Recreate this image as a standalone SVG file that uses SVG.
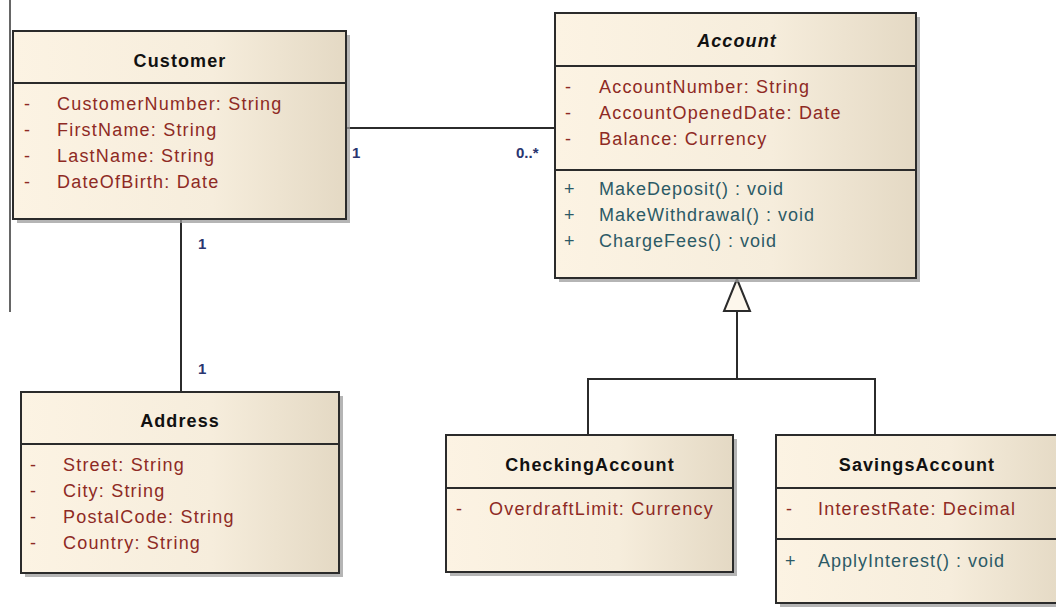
<svg xmlns="http://www.w3.org/2000/svg" width="1056" height="609" viewBox="0 0 1056 609">
<defs>
<linearGradient id="fill" x1="0" y1="0" x2="1" y2="0">
<stop offset="0" stop-color="#FCF3E3"/>
<stop offset="0.6" stop-color="#F6EDDC"/>
<stop offset="1" stop-color="#E4D9C4"/>
</linearGradient>
<style>
.shadow{fill:#9C9C9C;opacity:0.75}
.box{fill:url(#fill);stroke:#2B2B2B;stroke-width:2}
.sep{stroke:#2B2B2B;stroke-width:2}
.title{font-family:"Liberation Sans",Arial,sans-serif;font-size:18px;font-weight:bold;fill:#111;text-anchor:middle;letter-spacing:1.1px}
.attr{font-family:"Liberation Sans",Arial,sans-serif;font-size:18px;fill:#8E2A24;letter-spacing:1.2px}
.op{font-family:"Liberation Sans",Arial,sans-serif;font-size:18px;fill:#2C5A66;letter-spacing:1px}
.mult{font-family:"Liberation Sans",Arial,sans-serif;font-size:15px;font-weight:bold;fill:#2A3570}
.line{stroke:#2B2B2B;stroke-width:2;fill:none}
</style>
</defs>
<rect width="1056" height="609" fill="#FFFFFF"/>
<line x1="10" y1="0" x2="10" y2="312" stroke="#333" stroke-width="1.5"/>

<g id="connectors">
<line class="line" x1="346" y1="128" x2="555" y2="128"/>
<text class="mult" x="352" y="158">1</text>
<text class="mult" x="516" y="158">0..*</text>
<line class="line" x1="181" y1="219" x2="181" y2="392"/>
<text class="mult" x="198" y="249">1</text>
<text class="mult" x="198" y="374">1</text>
<polyline class="line" points="588,435 588,379 875,379 875,435"/>
<line class="line" x1="737" y1="311" x2="737" y2="379"/>
<polygon points="737,279 724,311 750,311" fill="#FDF7EC" stroke="#2B2B2B" stroke-width="2"/>
</g>

<g id="customer">
<rect class="shadow" x="17" y="35" width="333" height="188"/>
<rect class="box" x="13" y="31" width="333" height="188"/>
<line class="sep" x1="13" y1="83" x2="346" y2="83"/>
<text class="title" x="180" y="67">Customer</text>
<text class="attr" x="24" y="110">-</text><text class="attr" x="57" y="110">CustomerNumber: String</text>
<text class="attr" x="24" y="136">-</text><text class="attr" x="57" y="136">FirstName: String</text>
<text class="attr" x="24" y="162">-</text><text class="attr" x="57" y="162">LastName: String</text>
<text class="attr" x="24" y="188">-</text><text class="attr" x="57" y="188">DateOfBirth: Date</text>
</g>

<g id="account">
<rect class="shadow" x="559" y="17" width="361" height="265"/>
<rect class="box" x="555" y="13" width="361" height="265"/>
<line class="sep" x1="555" y1="66" x2="916" y2="66"/>
<line class="sep" x1="555" y1="170" x2="916" y2="170"/>
<text class="title" x="737" y="47" font-style="italic">Account</text>
<text class="attr" x="565" y="93">-</text><text class="attr" x="599" y="93">AccountNumber: String</text>
<text class="attr" x="565" y="119">-</text><text class="attr" x="599" y="119">AccountOpenedDate: Date</text>
<text class="attr" x="565" y="145">-</text><text class="attr" x="599" y="145">Balance: Currency</text>
<text class="op" x="564" y="195">+</text><text class="op" x="599" y="195">MakeDeposit() : void</text>
<text class="op" x="564" y="221">+</text><text class="op" x="599" y="221">MakeWithdrawal() : void</text>
<text class="op" x="564" y="247">+</text><text class="op" x="599" y="247">ChargeFees() : void</text>
</g>

<g id="address">
<rect class="shadow" x="25" y="396" width="318" height="181"/>
<rect class="box" x="21" y="392" width="318" height="181"/>
<line class="sep" x1="21" y1="444" x2="339" y2="444"/>
<text class="title" x="180" y="427">Address</text>
<text class="attr" x="30" y="471">-</text><text class="attr" x="63" y="471">Street: String</text>
<text class="attr" x="30" y="497">-</text><text class="attr" x="63" y="497">City: String</text>
<text class="attr" x="30" y="523">-</text><text class="attr" x="63" y="523">PostalCode: String</text>
<text class="attr" x="30" y="549">-</text><text class="attr" x="63" y="549">Country: String</text>
</g>

<g id="checkingaccount">
<rect class="shadow" x="450" y="439" width="287" height="137"/>
<rect class="box" x="446" y="435" width="287" height="137"/>
<line class="sep" x1="446" y1="488" x2="733" y2="488"/>
<text class="title" x="590" y="471">CheckingAccount</text>
<text class="attr" x="456" y="515">-</text><text class="attr" x="489" y="515">OverdraftLimit: Currency</text>
</g>

<g id="savingsaccount">
<rect class="shadow" x="780" y="439" width="290" height="168"/>
<rect class="box" x="776" y="435" width="290" height="168"/>
<line class="sep" x1="776" y1="488" x2="1066" y2="488"/>
<line class="sep" x1="776" y1="539" x2="1066" y2="539"/>
<text class="title" x="917" y="471">SavingsAccount</text>
<text class="attr" x="786" y="515">-</text><text class="attr" x="818" y="515">InterestRate: Decimal</text>
<text class="op" x="785" y="567">+</text><text class="op" x="818" y="567">ApplyInterest() : void</text>
</g>
</svg>
